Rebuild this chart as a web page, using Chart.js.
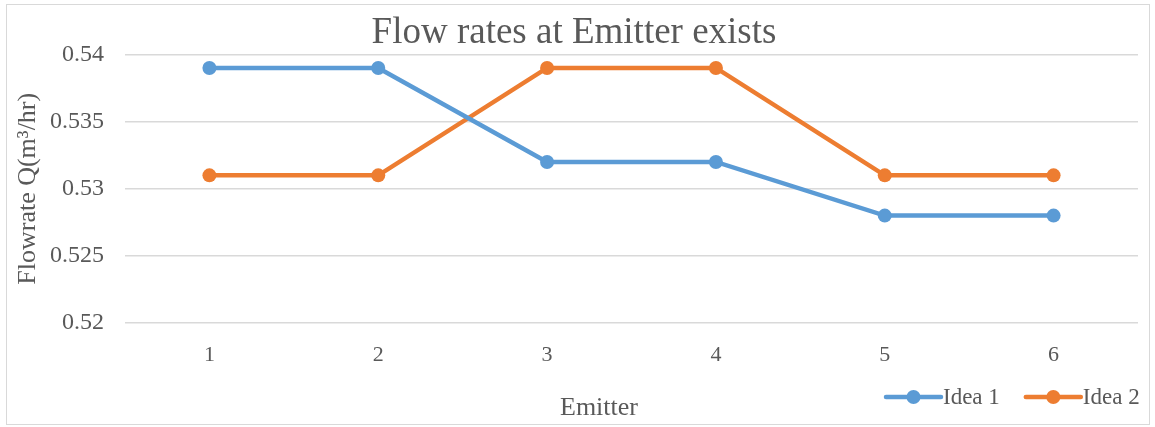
<!DOCTYPE html>
<html>
<head>
<meta charset="utf-8">
<script src="https://cdn.jsdelivr.net/npm/chart.js@4"></script>
<style>
  body { margin: 0; background: #fff; }
</style>
</head>
<body>
<canvas id="myChart" width="1155" height="427"></canvas>
<script>
// chart data
const emitters = ['1', '2', '3', '4', '5', '6'];
const idea1 = [0.539, 0.539, 0.532, 0.532, 0.528, 0.528];
const idea2 = [0.531, 0.531, 0.539, 0.539, 0.531, 0.531];
const seriesNames = ['Idea 1', 'Idea 2'];
const yTicks = [0.52, 0.525, 0.53, 0.535, 0.54];
const xTitle = 'Emitter';

const serif = "'Liberation Serif', 'Times New Roman', serif";
const textColor = '#595959';

// outer frame, like the excel chart border
const framePlugin = {
  id: 'frame',
  beforeDraw(chart) {
    const ctx = chart.ctx;
    ctx.save();
    ctx.strokeStyle = '#d9d9d9';
    ctx.lineWidth = 1;
    ctx.strokeRect(6.5, 4.5, 1143, 420);
    ctx.restore();
  }
};

// excel style legend (line with a dot) + x axis title, which sits left of centre
const lineLegend = {
  id: 'lineLegend',
  afterDraw(chart) {
    const ctx = chart.ctx;
    const y = 397;
    let x = 886;
    ctx.save();

    ctx.font = '26px ' + serif;
    ctx.fillStyle = textColor;
    ctx.textAlign = 'center';
    ctx.textBaseline = 'middle';
    ctx.fillText(xTitle, 599, 408);

    ctx.font = '23px ' + serif;
    ctx.textAlign = 'left';
    chart.data.datasets.forEach((ds) => {
      ctx.strokeStyle = ds.borderColor;
      ctx.lineWidth = 4.5;
      ctx.lineCap = 'round';
      ctx.beginPath();
      ctx.moveTo(x, y);
      ctx.lineTo(x + 55, y);
      ctx.stroke();
      ctx.fillStyle = ds.borderColor;
      ctx.beginPath();
      ctx.arc(x + 27.5, y, 7, 0, Math.PI * 2);
      ctx.fill();
      ctx.fillStyle = textColor;
      ctx.fillText(ds.label, x + 57, y + 1);
      x += 57 + ctx.measureText(ds.label).width + 26;
    });
    ctx.restore();
  }
};

const ctx = document.getElementById('myChart').getContext('2d');

const chart = new Chart(ctx, {
  type: 'line',
  data: {
    labels: emitters,
    datasets: [
      {
        label: seriesNames[0],
        data: idea1,
        borderColor: '#5B9BD5',
        backgroundColor: '#5B9BD5',
        borderWidth: 4.5,
        pointRadius: 7,
        pointBorderWidth: 0,
        pointHoverRadius: 7,
        tension: 0
      },
      {
        label: seriesNames[1],
        data: idea2,
        borderColor: '#ED7D31',
        backgroundColor: '#ED7D31',
        borderWidth: 4.5,
        pointRadius: 7,
        pointBorderWidth: 0,
        pointHoverRadius: 7,
        tension: 0
      }
    ]
  },
  options: {
    responsive: false,
    animation: false,
    layout: {
      padding: { left: 10, right: 17, top: 0, bottom: 0 }
    },
    plugins: {
      legend: { display: false },
      tooltip: { enabled: false },
      title: {
        display: true,
        text: 'Flow rates at Emitter exists',
        color: textColor,
        font: { family: serif, size: 37, weight: 'normal', lineHeight: 1.15 },
        padding: { top: 12, bottom: 0 }
      }
    },
    scales: {
      x: {
        offset: true,
        grid: { display: false },
        border: { display: false },
        ticks: {
          color: textColor,
          font: { family: serif, size: 22 },
          padding: 11
        },
        afterFit(scale) { scale.height = 104; }
      },
      y: {
        min: yTicks[0],
        max: yTicks[yTicks.length - 1],
        afterBuildTicks(scale) {
          scale.ticks = yTicks.map((v) => ({ value: v }));
        },
        grid: {
          color: '#d9d9d9',
          lineWidth: 1.5,
          drawTicks: false
        },
        border: { display: false },
        ticks: {
          color: textColor,
          font: { family: serif, size: 24 },
          padding: 21,
          callback: (v) => String(parseFloat(v.toFixed(3)))
        },
        title: {
          display: true,
          text: 'Flowrate Q(m³/hr)',
          color: textColor,
          font: { family: serif, size: 26 },
          padding: { top: 3, bottom: 0 }
        },
        afterFit(scale) { scale.width = 115; }
      }
    }
  },
  plugins: [framePlugin, lineLegend]
});
</script>
</body>
</html>
